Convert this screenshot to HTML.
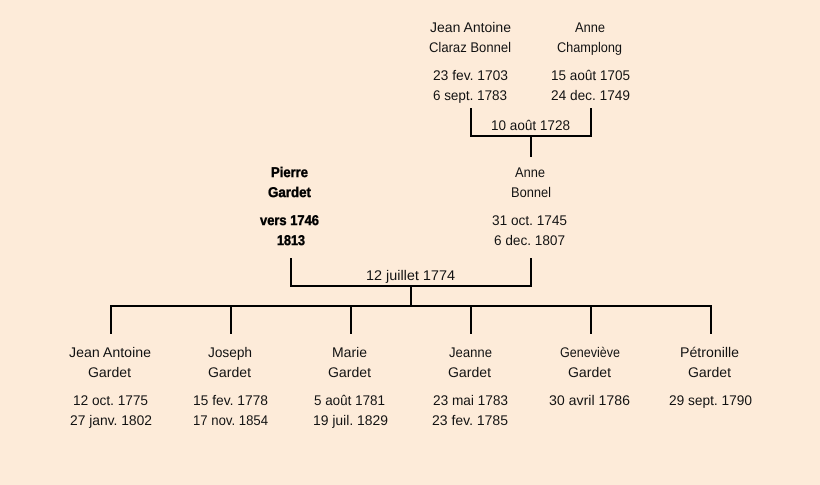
<!DOCTYPE html>
<html lang="fr">
<head>
<meta charset="utf-8">
<title>Famille Gardet</title>
<style>
html,body{margin:0;padding:0;background:#fdebd9;}
svg{display:block;}
text{font-family:"Liberation Sans",sans-serif;font-size:14px;fill:#111;text-rendering:geometricPrecision;}
.b{font-weight:bold;fill:#000;stroke:#000;stroke-width:.45px;}
</style>
</head>
<body>
<svg width="820" height="485" viewBox="0 0 820 485" xmlns="http://www.w3.org/2000/svg">
<rect width="820" height="485" fill="#fdebd9"/>
<g fill="#000">
<rect x="470" y="108" width="2" height="29"/>
<rect x="590" y="108" width="2" height="29"/>
<rect x="470" y="135" width="122" height="2"/>
<rect x="530" y="135" width="2" height="22"/>
<rect x="290" y="258" width="2" height="29"/>
<rect x="530" y="258" width="2" height="29"/>
<rect x="290" y="285" width="242" height="2"/>
<rect x="410" y="285" width="2" height="22"/>
<rect x="110" y="305" width="602" height="2"/>
<rect x="110" y="305" width="2" height="29"/>
<rect x="230" y="305" width="2" height="29"/>
<rect x="350" y="305" width="2" height="29"/>
<rect x="470" y="305" width="2" height="29"/>
<rect x="590" y="305" width="2" height="29"/>
<rect x="710" y="305" width="2" height="29"/>
</g>
<g>
<text x="430" y="32" textLength="81" lengthAdjust="spacingAndGlyphs">Jean Antoine</text>
<text x="429" y="52" textLength="82" lengthAdjust="spacingAndGlyphs">Claraz Bonnel</text>
<text x="433" y="80" textLength="75" lengthAdjust="spacingAndGlyphs">23 fev. 1703</text>
<text x="433" y="100" textLength="74" lengthAdjust="spacingAndGlyphs">6 sept. 1783</text>
<text x="575" y="32" textLength="30" lengthAdjust="spacingAndGlyphs">Anne</text>
<text x="557" y="52" textLength="65" lengthAdjust="spacingAndGlyphs">Champlong</text>
<text x="551" y="80" textLength="79" lengthAdjust="spacingAndGlyphs">15 août 1705</text>
<text x="551" y="100" textLength="79" lengthAdjust="spacingAndGlyphs">24 dec. 1749</text>
<text x="491" y="130" textLength="79" lengthAdjust="spacingAndGlyphs">10 août 1728</text>

<text class="b" x="271" y="177" textLength="37" lengthAdjust="spacingAndGlyphs">Pierre</text>
<text class="b" x="268" y="197" textLength="43" lengthAdjust="spacingAndGlyphs">Gardet</text>
<text class="b" x="260" y="225" textLength="59" lengthAdjust="spacingAndGlyphs">vers 1746</text>
<text class="b" x="277" y="245" textLength="28" lengthAdjust="spacingAndGlyphs">1813</text>

<text x="515" y="177" textLength="30" lengthAdjust="spacingAndGlyphs">Anne</text>
<text x="511" y="197" textLength="40" lengthAdjust="spacingAndGlyphs">Bonnel</text>
<text x="492" y="225" textLength="75" lengthAdjust="spacingAndGlyphs">31 oct. 1745</text>
<text x="494" y="245" textLength="71" lengthAdjust="spacingAndGlyphs">6 dec. 1807</text>
<text x="366" y="280" textLength="89" lengthAdjust="spacingAndGlyphs">12 juillet 1774</text>

<text x="69" y="357" textLength="82" lengthAdjust="spacingAndGlyphs">Jean Antoine</text>
<text x="88" y="377" textLength="43" lengthAdjust="spacingAndGlyphs">Gardet</text>
<text x="73" y="405" textLength="75" lengthAdjust="spacingAndGlyphs">12 oct. 1775</text>
<text x="70" y="425" textLength="82" lengthAdjust="spacingAndGlyphs">27 janv. 1802</text>

<text x="208" y="357" textLength="44" lengthAdjust="spacingAndGlyphs">Joseph</text>
<text x="208" y="377" textLength="43" lengthAdjust="spacingAndGlyphs">Gardet</text>
<text x="193" y="405" textLength="75" lengthAdjust="spacingAndGlyphs">15 fev. 1778</text>
<text x="193" y="425" textLength="75" lengthAdjust="spacingAndGlyphs">17 nov. 1854</text>

<text x="332" y="357" textLength="35" lengthAdjust="spacingAndGlyphs">Marie</text>
<text x="328" y="377" textLength="43" lengthAdjust="spacingAndGlyphs">Gardet</text>
<text x="314" y="405" textLength="71" lengthAdjust="spacingAndGlyphs">5 août 1781</text>
<text x="313" y="425" textLength="75" lengthAdjust="spacingAndGlyphs">19 juil. 1829</text>

<text x="449" y="357" textLength="43" lengthAdjust="spacingAndGlyphs">Jeanne</text>
<text x="448" y="377" textLength="43" lengthAdjust="spacingAndGlyphs">Gardet</text>
<text x="433" y="405" textLength="75" lengthAdjust="spacingAndGlyphs">23 mai 1783</text>
<text x="432" y="425" textLength="76" lengthAdjust="spacingAndGlyphs">23 fev. 1785</text>

<text x="560" y="357" textLength="60" lengthAdjust="spacingAndGlyphs">Geneviève</text>
<text x="568" y="377" textLength="43" lengthAdjust="spacingAndGlyphs">Gardet</text>
<text x="549" y="405" textLength="81" lengthAdjust="spacingAndGlyphs">30 avril 1786</text>

<text x="680" y="357" textLength="59" lengthAdjust="spacingAndGlyphs">Pétronille</text>
<text x="688" y="377" textLength="43" lengthAdjust="spacingAndGlyphs">Gardet</text>
<text x="669" y="405" textLength="83" lengthAdjust="spacingAndGlyphs">29 sept. 1790</text>
</g>
</svg>
</body>
</html>
